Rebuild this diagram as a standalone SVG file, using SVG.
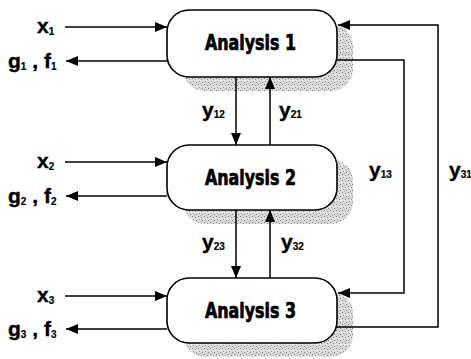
<svg xmlns="http://www.w3.org/2000/svg" width="471" height="359" viewBox="0 0 471 359">
<defs>
<pattern id="stip" width="6" height="6" patternUnits="userSpaceOnUse">
<rect width="6" height="6" fill="#dcdcdc"/>
<rect x="0" y="0" width="1" height="1" fill="#777"/>
<rect x="3" y="1" width="1" height="1" fill="#888"/>
<rect x="1" y="3" width="1" height="1" fill="#999"/>
<rect x="4" y="4" width="1" height="1" fill="#777"/>
<rect x="2" y="5" width="1" height="1" fill="#aaa"/>
<rect x="5" y="2" width="1" height="1" fill="#f6f6f6"/>
<rect x="2" y="2" width="1" height="1" fill="#f6f6f6"/>
</pattern>
<marker id="ah" markerUnits="userSpaceOnUse" markerWidth="12" markerHeight="10" refX="12" refY="5" orient="auto">
<path d="M0,0 L12,5 L0,10 z" fill="#000"/>
</marker>
</defs>
<style>
.box{fill:#fff;stroke:#000;stroke-width:1.6}
.sh{fill:url(#stip)}
.ttl{font-family:"Liberation Sans Narrow","DejaVu Sans Condensed","DejaVu Sans",sans-serif;font-weight:bold;font-size:21px;stroke:#000;stroke-width:0.7}
.lbl{font-family:"Liberation Sans",Arial,sans-serif;font-weight:bold;font-size:21px;stroke:#000;stroke-width:0.4}
.sub{font-size:10px;stroke-width:0.2}
.ln{fill:none;stroke:#000;stroke-width:1.5}
</style>
<g id="node1">
<rect class="sh" x="183" y="24" width="170" height="67" rx="22"/>
<rect class="box" x="167" y="10" width="170" height="67" rx="22"/>
<text class="ttl" x="205" y="50" textLength="91" lengthAdjust="spacingAndGlyphs">Analysis 1</text>
</g>
<g id="node2">
<rect class="sh" x="183" y="159" width="170" height="65" rx="22"/>
<rect class="box" x="167" y="145" width="170" height="65" rx="22"/>
<text class="ttl" x="205" y="185" textLength="91" lengthAdjust="spacingAndGlyphs">Analysis 2</text>
</g>
<g id="node3">
<rect class="sh" x="183" y="292" width="170" height="65" rx="22"/>
<rect class="box" x="167" y="278" width="170" height="65" rx="22"/>
<text class="ttl" x="205" y="318" textLength="91" lengthAdjust="spacingAndGlyphs">Analysis 3</text>
</g>
<g id="connectors">
<line class="ln" x1="65" y1="27" x2="167" y2="27" marker-end="url(#ah)"/>
<line class="ln" x1="167" y1="61" x2="66" y2="61" marker-end="url(#ah)"/>
<line class="ln" x1="65" y1="162" x2="167" y2="162" marker-end="url(#ah)"/>
<line class="ln" x1="167" y1="196" x2="66" y2="196" marker-end="url(#ah)"/>
<line class="ln" x1="65" y1="296" x2="167" y2="296" marker-end="url(#ah)"/>
<line class="ln" x1="167" y1="329" x2="66" y2="329" marker-end="url(#ah)"/>
<line class="ln" x1="236" y1="77" x2="236" y2="145" marker-end="url(#ah)"/>
<line class="ln" x1="270" y1="145" x2="270" y2="77" marker-end="url(#ah)"/>
<line class="ln" x1="236" y1="210" x2="236" y2="278" marker-end="url(#ah)"/>
<line class="ln" x1="270" y1="278" x2="270" y2="210" marker-end="url(#ah)"/>
<polyline class="ln" points="336,60 404,60 404,293 338,293" marker-end="url(#ah)"/>
<polyline class="ln" points="336,327 438,327 438,25 338,25" marker-end="url(#ah)"/>
</g>
<g id="labels" class="lbl">
<text x="37" y="33">x<tspan class="sub" dy="2">1</tspan></text>
<text x="8" y="68">g<tspan class="sub" dy="2">1</tspan><tspan dy="-2"> , f</tspan><tspan class="sub" dy="2">1</tspan></text>
<text x="37" y="168">x<tspan class="sub" dy="2">2</tspan></text>
<text x="8" y="203">g<tspan class="sub" dy="2">2</tspan><tspan dy="-2"> , f</tspan><tspan class="sub" dy="2">2</tspan></text>
<text x="37" y="302">x<tspan class="sub" dy="2">3</tspan></text>
<text x="8" y="336">g<tspan class="sub" dy="2">3</tspan><tspan dy="-2"> , f</tspan><tspan class="sub" dy="2">3</tspan></text>
<text x="202" y="117">y<tspan class="sub" dy="1">12</tspan></text>
<text x="279" y="117">y<tspan class="sub" dy="1">21</tspan></text>
<text x="202" y="249">y<tspan class="sub" dy="1">23</tspan></text>
<text x="281" y="249">y<tspan class="sub" dy="1">32</tspan></text>
<text x="369" y="177">y<tspan class="sub" dy="1">13</tspan></text>
<text x="449" y="177">y<tspan class="sub" dy="1">31</tspan></text>
</g>
</svg>
